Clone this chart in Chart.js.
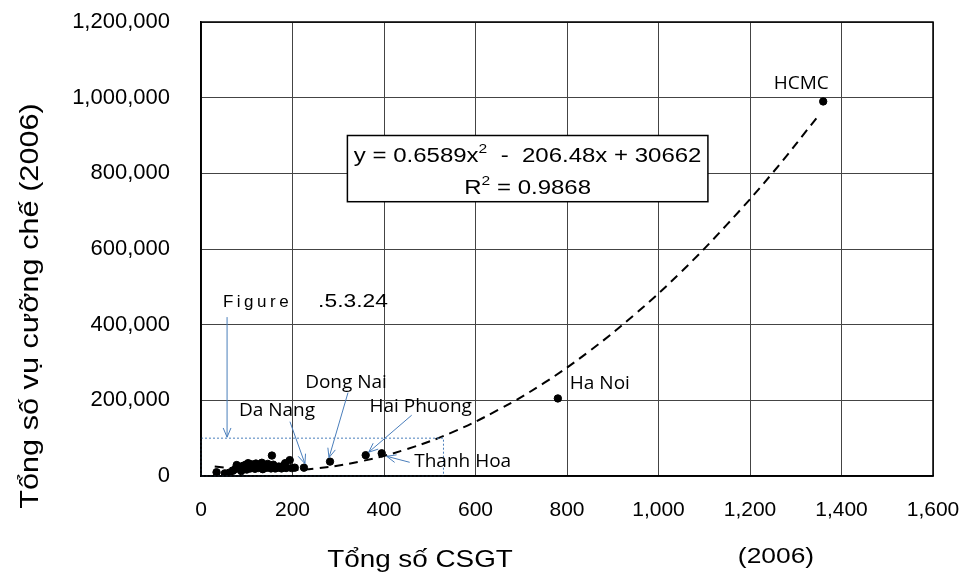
<!DOCTYPE html>
<html>
<head>
<meta charset="utf-8">
<script src="https://cdn.jsdelivr.net/npm/chart.js@4.4.0/dist/chart.umd.min.js"></script>
<style>
  html, body { margin: 0; padding: 0; background: #fff; }
</style>
</head>
<body>
<canvas id="chart" width="961" height="575"></canvas>
<script>
// provinces without a label (CSGT count, enforcement cases)
const provX = [34, 52, 56, 62, 70, 74, 78, 82, 86, 88, 92, 95, 98, 100, 103, 106, 108, 110, 113, 116,
               118, 120, 123, 125, 128, 130, 133, 135, 138, 140, 143, 146, 150, 153, 155, 158, 162, 165,
               170, 176, 180, 184, 186, 194, 198, 205];
const provY = [10000, 7000, 4000, 9000, 14000, 18000, 29000, 20000, 24000, 13000, 27000, 22000, 30000,
               17000, 34000, 25000, 20000, 31000, 23000, 28000, 19000, 33000, 26000, 21000, 30000, 24000,
               35000, 18000, 28000, 29000, 22000, 32000, 26000, 20000, 54000, 30000, 20000, 21000, 25000,
               20000, 27000, 34000, 21000, 42000, 21000, 22000];

// labelled cities
const cityNames = ['HCMC', 'Ha Noi', 'Thanh Hoa', 'Hai Phuong', 'Dong Nai', 'Da Nang'];
const cityX = [1360, 780, 395, 360, 282, 225];
const cityY = [990000, 205000, 60000, 55000, 38000, 22000];

// polynomial trend line
const trendX = [30, 100, 160, 250, 350, 450, 550, 650, 750, 850, 950, 1050, 1150, 1250, 1350];
const trendY = [25000, 17000, 15000, 20000, 39000, 71000, 116000, 175000, 246000, 331000, 429000,
                540000, 665000, 802000, 953000];

const xTicks = [0, 200, 400, 600, 800, 1000, 1200, 1400, 1600];
const yTicks = [0, 200000, 400000, 600000, 800000, 1000000, 1200000];

const points = provX.map((x, i) => ({ x: x, y: provY[i] }))
    .concat(cityX.map((x, i) => ({ x: x, y: cityY[i] })));
const trend = trendX.map((x, i) => ({ x: x, y: trendY[i] }));

const BLUE = '#4a7ebb';

// where each city label sits relative to its point (px), plus optional arrow
const labelLayout = {
    'HCMC':       { dx: -22, dy: -18 },
    'Ha Noi':     { dx: 42, dy: -15 },
    'Thanh Hoa':  { dx: 81, dy: 8, arrow: [28, 9, 5, 3] },
    'Hai Phuong': { dx: 55, dy: -49, arrow: [46, -40, 3, -3] },
    'Dong Nai':   { dx: 16, dy: -79, arrow: [18, -69, -1, -4] },
    'Da Nang':    { dx: -27, dy: -57, arrow: [-14, -46, 1, -4] }
};

function stretchText(ctx, text, x, y, font, align, sx, rot) {
    ctx.save();
    ctx.font = font;
    ctx.fillStyle = '#000';
    ctx.translate(x, y);
    if (rot) ctx.rotate(rot);
    ctx.scale(sx, 1);
    ctx.textAlign = align;
    ctx.textBaseline = 'middle';
    ctx.fillText(text, 0, 0);
    ctx.restore();
}

function arrow(ctx, x1, y1, x2, y2) {
    const a = Math.atan2(y2 - y1, x2 - x1);
    const len = 10;
    ctx.beginPath();
    ctx.moveTo(x1, y1);
    ctx.lineTo(x2, y2);
    ctx.moveTo(x2 - len * Math.cos(a - 0.4), y2 - len * Math.sin(a - 0.4));
    ctx.lineTo(x2, y2);
    ctx.lineTo(x2 - len * Math.cos(a + 0.4), y2 - len * Math.sin(a + 0.4));
    ctx.stroke();
}

const annotations = {
    id: 'annotations',
    afterDatasetsDraw(chart) {
        const ctx = chart.ctx;
        const xs = chart.scales.x, ys = chart.scales.y;
        const area = chart.chartArea;

        // dotted zoom box around the small provinces
        ctx.save();
        ctx.strokeStyle = BLUE;
        ctx.lineWidth = 1;
        ctx.setLineDash([2, 2]);
        const rx1 = xs.getPixelForValue(0), rx2 = xs.getPixelForValue(530);
        const ry1 = ys.getPixelForValue(100000), ry2 = ys.getPixelForValue(0);
        ctx.strokeRect(rx1, ry1, rx2 - rx1, ry2 - ry1);
        ctx.restore();

        // "Figure .5.3.24" note with its arrow
        ctx.save();
        ctx.font = '17px "Liberation Sans", Arial, sans-serif';
        ctx.letterSpacing = '3.5px';
        ctx.fillStyle = '#000';
        ctx.textBaseline = 'middle';
        ctx.fillText('Figure', xs.getPixelForValue(48), ys.getPixelForValue(460000));
        ctx.restore();
        stretchText(ctx, '.5.3.24', xs.getPixelForValue(256), ys.getPixelForValue(460000),
            '19px "Liberation Sans", Arial, sans-serif', 'left', 1.2);
        ctx.save();
        ctx.strokeStyle = BLUE;
        ctx.lineWidth = 1;
        const fx = xs.getPixelForValue(57);
        arrow(ctx, fx, ys.getPixelForValue(420000), fx, ry1 - 1);
        ctx.restore();

        // city labels
        const meta = chart.getDatasetMeta(0);
        const offset = provX.length;
        cityNames.forEach((name, i) => {
            const el = meta.data[offset + i];
            const L = labelLayout[name];
            ctx.save();
            ctx.font = '19px "Open Sans", sans-serif';
            ctx.fillStyle = '#000';
            ctx.textAlign = 'center';
            ctx.textBaseline = 'middle';
            ctx.fillText(name, el.x + L.dx, el.y + L.dy);
            if (L.arrow) {
                ctx.strokeStyle = BLUE;
                ctx.lineWidth = 1;
                arrow(ctx, el.x + L.arrow[0], el.y + L.arrow[1], el.x + L.arrow[2], el.y + L.arrow[3]);
            }
            ctx.restore();
        });

        // equation box
        const bx1 = xs.getPixelForValue(320), bx2 = xs.getPixelForValue(1108);
        const by1 = ys.getPixelForValue(900000), by2 = ys.getPixelForValue(725000);
        ctx.save();
        ctx.fillStyle = '#fff';
        ctx.fillRect(bx1, by1, bx2 - bx1, by2 - by1);
        ctx.strokeStyle = '#000';
        ctx.lineWidth = 1.5;
        ctx.strokeRect(bx1, by1, bx2 - bx1, by2 - by1);
        ctx.restore();

        const cx = (bx1 + bx2) / 2;
        const sx = 1.2;
        const f = '20px "Liberation Sans", Arial, sans-serif';
        const fs = '13px "Liberation Sans", Arial, sans-serif';
        const drawSup = (parts, cy) => {
            ctx.save();
            ctx.fillStyle = '#000';
            ctx.textBaseline = 'middle';
            let total = 0;
            parts.forEach(p => { ctx.font = p[1] ? fs : f; total += ctx.measureText(p[0]).width; });
            ctx.translate(cx, cy);
            ctx.scale(sx, 1);
            let x = -total / 2;
            parts.forEach(p => {
                ctx.font = p[1] ? fs : f;
                ctx.fillText(p[0], x, p[1] ? -7 : 0);
                x += ctx.measureText(p[0]).width;
            });
            ctx.restore();
        };
        drawSup([['y = 0.6589x', 0], ['2', 1], ['  -  206.48x + 30662', 0]], by1 + 21);
        drawSup([['R', 0], ['2', 1], [' = 0.9868', 0]], by1 + 53);

        // plot frame
        ctx.save();
        ctx.strokeStyle = '#000';
        ctx.lineWidth = 1.5;
        ctx.strokeRect(area.left, area.top, area.right - area.left, area.bottom - area.top);
        ctx.restore();
    },
    afterDraw(chart) {
        const ctx = chart.ctx;
        stretchText(ctx, 'Tổng số vụ cưỡng chế (2006)', 31, 306,
            '26px "Liberation Sans", Arial, sans-serif', 'center', 1.18, -Math.PI / 2);
        stretchText(ctx, 'Tổng số CSGT', 420, 560,
            '24px "Liberation Sans", Arial, sans-serif', 'center', 1.16);
        stretchText(ctx, '(2006)', 776, 557,
            '22px "Liberation Sans", Arial, sans-serif', 'center', 1.2);
    }
};

Chart.defaults.font.family = '"Liberation Sans", Arial, sans-serif';
Chart.defaults.color = '#000';

new Chart(document.getElementById('chart'), {
    type: 'scatter',
    data: {
        datasets: [{
            data: points,
            backgroundColor: '#000',
            borderColor: '#000',
            pointRadius: 3.7,
            pointHoverRadius: 3.7
        }, {
            type: 'line',
            data: trend,
            borderColor: '#000',
            borderWidth: 2,
            borderDash: [9, 6],
            pointRadius: 0,
            tension: 0.4,
            fill: false
        }]
    },
    options: {
        responsive: false,
        animation: false,
        devicePixelRatio: 1,
        layout: { padding: { top: 22, right: 28, left: 0, bottom: 0 } },
        plugins: {
            legend: { display: false },
            tooltip: { enabled: false }
        },
        scales: {
            x: {
                type: 'linear',
                min: xTicks[0],
                max: xTicks[xTicks.length - 1],
                afterBuildTicks: s => { s.ticks = xTicks.map(v => ({ value: v })); },
                afterFit: s => {
                    s.height = 99;
                    s.paddingLeft = 0;
                    s.paddingRight = 0;
                },
                grid: { color: '#444', lineWidth: 1, drawTicks: false },
                border: { color: '#000', width: 1.5 },
                ticks: {
                    padding: 22,
                    maxRotation: 0,
                    autoSkip: false,
                    font: { size: 21 },
                    callback: v => v.toLocaleString('en-US')
                }
            },
            y: {
                type: 'linear',
                min: yTicks[0],
                max: yTicks[yTicks.length - 1],
                afterBuildTicks: s => { s.ticks = yTicks.map(v => ({ value: v })); },
                afterFit: s => {
                    s.width = 201;
                    s.paddingTop = 0;
                    s.paddingBottom = 0;
                },
                grid: { color: '#444', lineWidth: 1, drawTicks: false },
                border: { color: '#000', width: 1.5 },
                ticks: {
                    padding: 31,
                    font: { size: 22 },
                    callback: v => v.toLocaleString('en-US')
                }
            }
        }
    },
    plugins: [annotations]
});
</script>
</body>
</html>
